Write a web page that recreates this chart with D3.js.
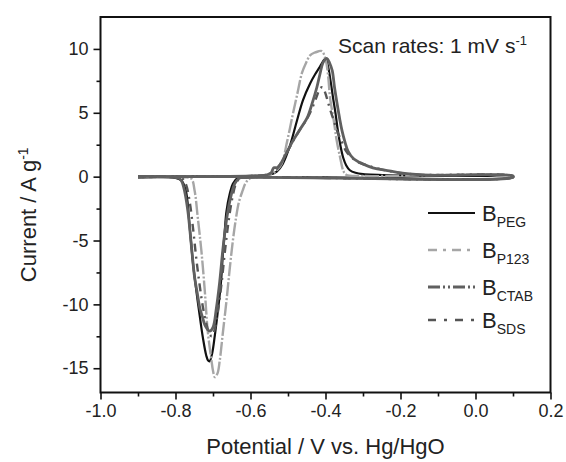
<!DOCTYPE html>
<html>
<head>
<meta charset="utf-8">
<script src="https://cdn.jsdelivr.net/npm/d3@7"></script>
<style>
  html, body { margin: 0; padding: 0; background: #fff; }
  svg text { font-family: "Liberation Sans", Arial, Helvetica, sans-serif; fill: #222; }
</style>
</head>
<body>
<svg id="chart" width="566" height="462"></svg>
<script>
// Cyclic voltammograms (potential V vs. Hg/HgO, current A/g), anodic sweep then cathodic sweep
const xTicks = [-1.0, -0.8, -0.6, -0.4, -0.2, 0.0, 0.2];
const xMinorTicks = [-0.9, -0.7, -0.5, -0.3, -0.1, 0.1];
const yTicks = [-15, -10, -5, 0, 5, 10];
const yMinorTicks = [-12.5, -7.5, -2.5, 2.5, 7.5];

const seriesNames = ["PEG", "P123", "CTAB", "SDS"];

const cvPEG = [
  [-0.9, 0.02], [-0.7, 0.02], [-0.6, 0.05], [-0.55, 0.15], [-0.53, 0.4], [-0.514, 1.0],
  [-0.495, 2.4], [-0.476, 4.4], [-0.46, 6.0], [-0.441, 7.3], [-0.428, 8.0], [-0.415, 8.6],
  [-0.405, 9.1], [-0.400, 9.25], [-0.393, 8.6], [-0.386, 7.4], [-0.380, 6.2], [-0.373, 4.9],
  [-0.367, 3.6], [-0.360, 2.4], [-0.353, 1.5], [-0.345, 0.9], [-0.335, 0.5], [-0.32, 0.3],
  [-0.3, 0.2], [-0.2, 0.1], [0.0, 0.05], [0.1, 0.05],
  [0.1, -0.05], [-0.4, -0.05], [-0.6, -0.05], [-0.634, -0.1], [-0.647, -0.55], [-0.655, -1.3],
  [-0.664, -2.7], [-0.669, -4.4], [-0.674, -6.2], [-0.678, -8.0], [-0.683, -9.5], [-0.689, -11.0],
  [-0.695, -12.4], [-0.702, -13.8], [-0.709, -14.45], [-0.713, -14.4], [-0.718, -14.0],
  [-0.727, -12.6], [-0.734, -11.2], [-0.741, -9.7], [-0.748, -8.1], [-0.754, -6.6], [-0.762, -4.0],
  [-0.771, -1.3], [-0.778, -0.6], [-0.784, -0.3], [-0.8, -0.1], [-0.9, -0.05]
];

const cvP123 = [
  [-0.9, 0.02], [-0.6, 0.05], [-0.545, 0.2], [-0.53, 0.5], [-0.517, 1.0], [-0.502, 2.8],
  [-0.487, 4.9], [-0.475, 6.5], [-0.463, 8.1], [-0.452, 8.9], [-0.441, 9.5], [-0.430, 9.7],
  [-0.420, 9.8], [-0.412, 9.85], [-0.407, 9.75], [-0.401, 9.3], [-0.397, 8.8], [-0.392, 7.6],
  [-0.388, 6.2], [-0.378, 4.4], [-0.370, 2.8], [-0.361, 1.5], [-0.353, 0.5], [-0.345, 0.15],
  [-0.3, 0.05], [0.1, 0.05],
  [0.1, -0.05], [-0.55, -0.05], [-0.599, -0.1], [-0.613, -0.5], [-0.621, -1.1], [-0.631, -2.0],
  [-0.639, -3.3], [-0.647, -5.0], [-0.655, -7.1], [-0.664, -9.7], [-0.674, -12.3], [-0.682, -14.4],
  [-0.688, -15.4], [-0.695, -15.7], [-0.700, -15.2], [-0.704, -14.4], [-0.714, -12.1],
  [-0.722, -8.9], [-0.731, -5.8], [-0.741, -3.1], [-0.749, -1.1], [-0.758, -0.15],
  [-0.78, -0.05], [-0.9, -0.05]
];

const cvCTAB = [
  [-0.9, 0.02], [-0.6, 0.05], [-0.555, 0.15], [-0.545, 0.3], [-0.538, 0.7], [-0.530, 0.7],
  [-0.522, 0.9], [-0.505, 1.8], [-0.487, 2.8], [-0.468, 3.7], [-0.449, 4.6], [-0.436, 5.7],
  [-0.423, 7.0], [-0.415, 8.0], [-0.407, 8.9], [-0.400, 9.2], [-0.396, 9.25], [-0.389, 8.9],
  [-0.382, 8.3], [-0.376, 7.0], [-0.369, 5.7], [-0.362, 4.5], [-0.356, 3.6], [-0.348, 2.7],
  [-0.340, 2.0], [-0.325, 1.4], [-0.308, 1.1], [-0.285, 0.8], [-0.262, 0.6], [-0.23, 0.45],
  [-0.201, 0.3], [-0.15, 0.15], [-0.1, 0.1], [0.1, 0.05],
  [0.1, -0.05], [-0.55, -0.05], [-0.62, -0.08], [-0.629, -0.1], [-0.642, -0.55], [-0.655, -1.9],
  [-0.664, -3.4], [-0.674, -5.8], [-0.682, -8.2], [-0.691, -10.3], [-0.700, -11.8], [-0.709, -12.1],
  [-0.716, -11.9], [-0.722, -11.6], [-0.728, -11.0], [-0.735, -10.3], [-0.742, -9.1], [-0.749, -7.9],
  [-0.758, -5.3], [-0.767, -2.7], [-0.776, -1.1], [-0.783, -0.4], [-0.789, -0.15], [-0.8, -0.05],
  [-0.9, -0.05]
];

const cvSDS = [
  [-0.9, 0.02], [-0.6, 0.05], [-0.55, 0.2], [-0.53, 0.6], [-0.51, 1.5], [-0.49, 2.6],
  [-0.47, 3.6], [-0.45, 4.5], [-0.435, 5.4], [-0.423, 6.3], [-0.415, 6.9], [-0.408, 7.0],
  [-0.400, 6.5], [-0.395, 6.0], [-0.388, 5.3], [-0.378, 4.4], [-0.368, 3.5], [-0.356, 2.7],
  [-0.345, 2.0], [-0.33, 1.5], [-0.31, 1.1], [-0.28, 0.8], [-0.25, 0.55], [-0.2, 0.3],
  [-0.15, 0.15], [0.1, 0.05],
  [0.1, -0.05], [-0.55, -0.05], [-0.625, -0.1], [-0.638, -0.5], [-0.648, -1.6], [-0.658, -3.4],
  [-0.668, -5.8], [-0.677, -8.3], [-0.686, -10.4], [-0.695, -11.9], [-0.703, -12.5], [-0.710, -12.3],
  [-0.718, -11.5], [-0.727, -10.2], [-0.736, -8.4], [-0.745, -6.3], [-0.753, -4.1], [-0.762, -2.0],
  [-0.771, -0.7], [-0.780, -0.2], [-0.8, -0.05], [-0.9, -0.05]
];

const seriesData = [cvPEG, cvP123, cvCTAB, cvSDS];

const svg = d3.select("#chart");
const plot = { left: 100.5, right: 550.5, top: 17, bottom: 392.5 };

const x = d3.scaleLinear().domain([-1.0, 0.2]).range([plot.left, plot.right]);
const y = d3.scaleLinear().domain([-16.9, 12.5]).range([plot.bottom, plot.top]);

// colour, width, dash pattern for the legend sample and for the curve itself
const styles = {
  PEG:  { color: "#111",    width: 2.2, dash: null,           curveDash: null },
  P123: { color: "#a6a6a6", width: 2.4, dash: "9,6,3,6",      curveDash: "14,2,2,2" },
  CTAB: { color: "#606060", width: 2.8, dash: "12,3,2,3,2,3", curveDash: null },
  SDS:  { color: "#555",    width: 2.4, dash: "8,8,3,8",      curveDash: "8,5,2,5" }
};

// curves (grey traces drawn last so they sit on top along the baseline)
const line = d3.line().x(d => x(d[0])).y(d => y(d[1])).curve(d3.curveCatmullRom.alpha(0.5));
const drawOrder = [0, 1, 3, 2];
drawOrder.forEach(i => {
  const s = styles[seriesNames[i]];
  svg.append("path")
    .datum(seriesData[i])
    .attr("d", line)
    .attr("fill", "none")
    .attr("stroke", s.color)
    .attr("stroke-width", s.width)
    .attr("stroke-linejoin", "round")
    .attr("stroke-dasharray", s.curveDash);
});

// frame
svg.append("rect")
  .attr("x", plot.left).attr("y", plot.top)
  .attr("width", plot.right - plot.left).attr("height", plot.bottom - plot.top)
  .attr("fill", "none").attr("stroke", "#111").attr("stroke-width", 2);

// axes with outward major and minor ticks
const xAxis = svg.append("g").attr("transform", `translate(0,${plot.bottom})`)
  .call(d3.axisBottom(x).tickValues(xTicks).tickSize(7).tickPadding(5));
const xMinor = svg.append("g").attr("transform", `translate(0,${plot.bottom})`)
  .call(d3.axisBottom(x).tickValues(xMinorTicks).tickSize(4).tickFormat(""));
const yAxis = svg.append("g").attr("transform", `translate(${plot.left},0)`)
  .call(d3.axisLeft(y).tickValues(yTicks).tickSize(7).tickPadding(5));
const yMinor = svg.append("g").attr("transform", `translate(${plot.left},0)`)
  .call(d3.axisLeft(y).tickValues(yMinorTicks).tickSize(4).tickFormat(""));

[xAxis, xMinor, yAxis, yMinor].forEach(g => {
  g.select(".domain").remove();
  g.selectAll(".tick line").attr("stroke", "#111").attr("stroke-width", 1.6);
  g.selectAll(".tick text").attr("font-size", 18).style("fill", "#222");
});
xAxis.selectAll(".tick text").text(d => d.toFixed(1));
yAxis.selectAll(".tick text").text(d => String(d));

// axis titles
svg.append("text")
  .attr("x", (plot.left + plot.right) / 2).attr("y", 454)
  .attr("text-anchor", "middle").attr("font-size", 22)
  .text("Potential / V vs. Hg/HgO");

const yTitle = svg.append("text")
  .attr("transform", `translate(36,${(plot.top + plot.bottom) / 2 + 10}) rotate(-90)`)
  .attr("text-anchor", "middle").attr("font-size", 22);
yTitle.append("tspan").text("Current / A g");
yTitle.append("tspan").attr("dy", -8).attr("font-size", 14).text("-1");

// scan rate note
const note = svg.append("text").attr("x", 338).attr("y", 53).attr("font-size", 21);
note.append("tspan").text("Scan rates: 1 mV s");
note.append("tspan").attr("dy", -8).attr("font-size", 13).text("-1");

// legend
const legendRows = [213, 250, 287, 320];
seriesNames.forEach((name, i) => {
  const s = styles[name];
  const ly = legendRows[i];
  svg.append("line")
    .attr("x1", 428).attr("x2", 475).attr("y1", ly).attr("y2", ly)
    .attr("stroke", s.color).attr("stroke-width", s.width)
    .attr("stroke-dasharray", s.dash);
  const t = svg.append("text").attr("x", 482).attr("y", ly + 8).attr("font-size", 22);
  t.append("tspan").text("B");
  t.append("tspan").attr("dy", 6).attr("font-size", 14).text(name);
});
</script>
</body>
</html>
